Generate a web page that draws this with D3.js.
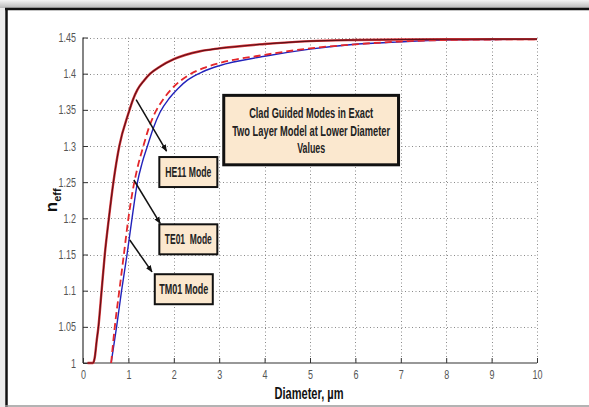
<!DOCTYPE html>
<html>
<head>
<meta charset="utf-8">
<script src="https://cdn.jsdelivr.net/npm/d3@7"></script>
<style>
  html, body { margin: 0; padding: 0; background: #ffffff; }
  svg { display: block; }
  .narrow { font-family: "Liberation Sans Narrow", "Liberation Sans", Arial, sans-serif; }
</style>
</head>
<body>
<svg id="chart" width="589" height="407"></svg>
<script>
// Effective index of the clad guided modes versus fibre diameter (µm)
const he11Diameter = [0.10, 0.22, 0.26, 0.30, 0.34, 0.41, 0.48, 0.57, 0.67, 0.80, 1.00, 1.10, 1.20, 1.35, 1.48, 1.70, 2.00, 2.58, 3.00, 4.00, 5.00, 6.00, 7.00, 8.00, 9.00, 10.00];
const he11Neff     = [1.000, 1.000, 1.008, 1.030, 1.050, 1.100, 1.150, 1.200, 1.250, 1.300, 1.345, 1.364, 1.378, 1.391, 1.400, 1.410, 1.420, 1.431, 1.435, 1.441, 1.445, 1.4465, 1.4472, 1.4475, 1.4477, 1.4478];

const te01Diameter = [0.62, 0.70, 0.80, 0.90, 1.00, 1.10, 1.20, 1.33, 1.45, 1.58, 1.75, 2.00, 2.30, 2.65, 3.00, 4.00, 5.00, 5.88, 7.00, 8.00, 9.00, 10.00];
const te01Neff     = [1.000, 1.050, 1.100, 1.150, 1.200, 1.240, 1.270, 1.300, 1.325, 1.345, 1.363, 1.382, 1.397, 1.4076, 1.4145, 1.426, 1.435, 1.440, 1.4445, 1.4465, 1.4472, 1.4476];

const tm01Diameter = [0.62, 0.74, 0.85, 0.97, 1.08, 1.20, 1.30, 1.42, 1.55, 1.70, 1.90, 2.10, 2.30, 2.65, 3.00, 4.00, 5.00, 5.88, 7.00, 8.00, 9.00, 10.00];
const tm01Neff     = [1.000, 1.050, 1.100, 1.150, 1.200, 1.250, 1.276, 1.300, 1.325, 1.347, 1.366, 1.380, 1.391, 1.403, 1.411, 1.424, 1.434, 1.440, 1.444, 1.4465, 1.4472, 1.4476];

const xTicks = [0, 1, 2, 3, 4, 5, 6, 7, 8, 9, 10];
const yTicks = [1, 1.05, 1.1, 1.15, 1.2, 1.25, 1.3, 1.35, 1.4, 1.45];
const yTickLabels = ["1", "1.05", "1.1", "1.15", "1.2", "1.25", "1.3", "1.35", "1.4", "1.45"];

const titleLines = ["Clad Guided Modes in Exact", "Two Layer Model at Lower Diameter", "Values"];
const titleWidths = [124, 158, 28];

// Mode call-outs: arrow tail on the curve, arrow head and label box centre (data units)
const callouts = [
  { label: "HE11 Mode", width: 46, from: [1.17, 1.364], to: [1.84, 1.293], box: [2.32, 1.264] },
  { label: "TE01  Mode", width: 47, from: [1.12, 1.253], to: [1.70, 1.193], box: [2.32, 1.171] },
  { label: "TM01 Mode", width: 49, from: [1.03, 1.170], to: [1.52, 1.126], box: [2.22, 1.102] }
];

const svg = d3.select("#chart");
const x = d3.scaleLinear().domain([0, 10]).range([83, 537]);
const y = d3.scaleLinear().domain([1, 1.45]).range([363, 37.5]);

// Squeeze text horizontally to a narrow face
function condense(sel, factor) {
  sel.each(function () {
    const w = this.getComputedTextLength();
    this.setAttribute("textLength", (w * factor).toFixed(1));
    this.setAttribute("lengthAdjust", "spacingAndGlyphs");
  });
}
function fitWidth(sel, width) {
  sel.attr("textLength", width).attr("lengthAdjust", "spacingAndGlyphs");
}

// Frame with a soft shadow along the top edge
const defs = svg.append("defs");
const grad = defs.append("linearGradient").attr("id", "topShade").attr("x1", 0).attr("y1", 0).attr("x2", 0).attr("y2", 1);
grad.append("stop").attr("offset", "0%").attr("stop-color", "#f4f4f4");
grad.append("stop").attr("offset", "100%").attr("stop-color", "#b8b8b8");
svg.append("rect").attr("x", 0).attr("y", 0).attr("width", 589).attr("height", 8).attr("fill", "url(#topShade)");
svg.append("rect").attr("x", 0).attr("y", 8).attr("width", 5).attr("height", 399).attr("fill", "#ececec");
svg.append("line").attr("x1", 5).attr("x2", 589).attr("y1", 9).attr("y2", 9).attr("stroke", "#111").attr("stroke-width", 2.5);
svg.append("line").attr("x1", 6.5).attr("x2", 6.5).attr("y1", 8).attr("y2", 407).attr("stroke", "#111").attr("stroke-width", 2.5);
svg.append("line").attr("x1", 5).attr("x2", 589).attr("y1", 406).attr("y2", 406).attr("stroke", "#9a9a9a").attr("stroke-width", 1.5);

// Dotted grid
const grid = svg.append("g").attr("stroke", "#8a8a8a").attr("stroke-width", 1).attr("stroke-dasharray", "1,2.5");
grid.selectAll("line.v").data(xTicks.slice(1)).join("line")
  .attr("x1", d => Math.round(x(d)) + 0.5).attr("x2", d => Math.round(x(d)) + 0.5)
  .attr("y1", y(1.45)).attr("y2", y(1));
grid.selectAll("line.h").data(yTicks.slice(1)).join("line")
  .attr("x1", x(0)).attr("x2", x(10))
  .attr("y1", d => Math.round(y(d)) + 0.5).attr("y2", d => Math.round(y(d)) + 0.5);

// Axes with inward ticks
const xAxis = d3.axisBottom(x).tickValues(xTicks).tickSize(-5).tickPadding(7).tickFormat(d3.format("d"));
const yAxis = d3.axisLeft(y).tickValues(yTicks).tickSize(-5).tickPadding(7).tickFormat((d, i) => yTickLabels[i]);

const gx = svg.append("g").attr("transform", `translate(0,${y(1)})`).call(xAxis);
const gy = svg.append("g").attr("transform", `translate(${x(0)},0)`).call(yAxis);
[gx, gy].forEach(g => {
  g.select(".domain").attr("stroke", "#333").attr("stroke-width", 1.2);
  g.selectAll(".tick line").attr("stroke", "#333");
  g.selectAll(".tick text").attr("class", "narrow").attr("font-size", 12.5).attr("fill", "#555");
  condense(g.selectAll(".tick text"), 0.72);
});
gx.select(".domain").attr("d", `M${x(0)},0H${x(10)}`);
gy.select(".domain").attr("d", `M0,${y(1.45)}V${y(1)}`);

// Curves
const line = d3.line().x(d => x(d[0])).y(d => y(d[1])).curve(d3.curveMonotoneX);
const zip = (a, b) => a.map((v, i) => [v, b[i]]);

const plot = svg.append("g").attr("fill", "none");
plot.append("path").datum(zip(tm01Diameter, tm01Neff)).attr("d", line)
  .attr("stroke", "#2222bb").attr("stroke-width", 1.4);
plot.append("path").datum(zip(te01Diameter, te01Neff)).attr("d", line)
  .attr("stroke", "#e3262a").attr("stroke-width", 1.8).attr("stroke-dasharray", "7,4");
plot.append("path").datum(zip(he11Diameter, he11Neff)).attr("d", line)
  .attr("stroke", "#d8363a").attr("stroke-width", 2.4);
plot.append("path").datum(zip(he11Diameter, he11Neff)).attr("d", line)
  .attr("stroke", "#5c1018").attr("stroke-width", 1.1);

// Arrow marker
defs.append("marker").attr("id", "arrow").attr("viewBox", "0 0 10 10")
  .attr("refX", 9).attr("refY", 5).attr("markerWidth", 7).attr("markerHeight", 7)
  .attr("markerUnits", "userSpaceOnUse").attr("orient", "auto")
  .append("path").attr("d", "M0,1 L10,5 L0,9 Z").attr("fill", "#111");

const boxFill = "#fbe8cf";
const notes = svg.append("g");
callouts.forEach(c => {
  notes.append("line")
    .attr("x1", x(c.from[0])).attr("y1", y(c.from[1]))
    .attr("x2", x(c.to[0])).attr("y2", y(c.to[1]))
    .attr("stroke", "#111").attr("stroke-width", 1.5).attr("marker-end", "url(#arrow)");
  const cx = x(c.box[0]), cy = y(c.box[1]);
  const w = 58, h = 30;
  notes.append("rect").attr("x", cx - w / 2).attr("y", cy - h / 2).attr("width", w).attr("height", h)
    .attr("fill", boxFill).attr("stroke", "#111").attr("stroke-width", 2);
  notes.append("text").attr("class", "narrow").attr("x", cx).attr("y", cy + 5)
    .attr("text-anchor", "middle").attr("font-size", 14).attr("font-weight", "bold").attr("fill", "#222")
    .style("white-space", "pre")
    .text(c.label)
    .call(fitWidth, c.width);
});

// Title box
const tb = { x0: x(3.1), x1: x(6.95), y0: y(1.37), y1: y(1.274) };
notes.append("rect").attr("x", tb.x0).attr("y", tb.y0).attr("width", tb.x1 - tb.x0).attr("height", tb.y1 - tb.y0)
  .attr("fill", boxFill).attr("stroke", "#111").attr("stroke-width", 3);
notes.selectAll("text.title").data(titleLines).join("text").attr("class", "narrow")
  .attr("text-anchor", "middle").attr("font-size", 15).attr("font-weight", "bold").attr("fill", "#222")
  .attr("x", (tb.x0 + tb.x1) / 2).attr("y", (d, i) => tb.y0 + 23 + i * 17.5)
  .text(d => d)
  .attr("textLength", (d, i) => titleWidths[i]).attr("lengthAdjust", "spacingAndGlyphs");

// Axis titles
svg.append("text").attr("class", "narrow").attr("x", 309).attr("y", 399)
  .attr("text-anchor", "middle").attr("font-size", 16).attr("font-weight", "bold").attr("fill", "#111")
  .text("Diameter, µm").call(fitWidth, 69);
const yl = svg.append("text").attr("class", "narrow")
  .attr("transform", `translate(57,${y(1.225)}) rotate(-90)`)
  .attr("text-anchor", "middle").attr("font-weight", "bold").attr("fill", "#111");
yl.append("tspan").attr("font-size", 17).text("n");
yl.append("tspan").attr("font-size", 11).attr("dy", 4).text("eff");
</script>
</body>
</html>
